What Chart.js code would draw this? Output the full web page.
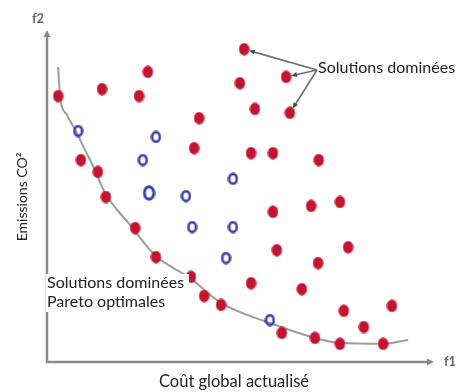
<!DOCTYPE html>
<html>
<head>
<meta charset="utf-8">
<script src="https://cdn.jsdelivr.net/npm/chart.js@4/dist/chart.umd.min.js"></script>
<style>
  html, body { margin: 0; padding: 0; background: #fff; }
  #wrap { width: 462px; height: 392px; }
</style>
</head>
<body>
<div id="wrap"><canvas id="c" width="462" height="392"></canvas></div>
<script>
// Dominated solutions (red, filled) — f1 (cost), f2 (CO2), normalised 0-100
const redX = [51.2, 26.2, 62.1, 50.1, 14.3, 2.9, 23.9, 54.0, 63.1, 39.5, 38.2, 53.0, 58.7, 8.8, 70.6, 13.2, 15.3, 76.1, 68.6, 58.7, 22.9, 78.2, 59.7, 28.3, 70.4, 37.4, 53.0, 66.2, 40.8, 45.2, 89.6, 77.1, 82.3, 61.0, 69.6, 76.1, 87.3];
const redY = [94.8, 87.9, 86.4, 84.5, 82.7, 80.6, 80.6, 76.7, 75.5, 73.9, 64.8, 63.3, 63.3, 61.2, 61.2, 57.6, 50.0, 48.5, 47.3, 45.5, 40.6, 34.8, 33.9, 31.8, 30.0, 25.8, 23.9, 22.1, 20.0, 17.3, 17.0, 15.5, 10.6, 8.8, 7.3, 5.5, 5.5];
// Other solutions (blue, hollow)
const blueX = [8.1, 28.3, 24.9, 48.3, 26.5, 36.1, 37.7, 48.3, 46.5, 57.9];
const blueY = [70.0, 68.2, 61.2, 55.5, 51.2, 50.3, 40.9, 40.9, 31.5, 12.7];
const blueBig = [false, false, false, false, true, false, false, false, false, false];
// Pareto front curve
const frontX = [2.9, 3.4, 5.2, 7.5, 9.9, 12.2, 15.1, 21.6, 28.3, 37.1, 45.2, 57.9, 69.6, 76.1, 87.3, 93.8];
const frontY = [89.4, 80.6, 74.8, 70.0, 64.2, 58.8, 51.2, 41.5, 32.1, 25.5, 17.9, 11.8, 7.3, 5.8, 5.5, 6.7];
// Indices of red points pointed at by "Solutions dominées"
const annotated = [0, 2, 8];
// Texts
const xTitle = "Coût global actualisé";
const yTitle = "Emissions CO²";
const xAxisName = "f1";
const yAxisName = "f2";
const topLabel = "Solutions dominées";
const paretoLabel = ["Solutions dominées", "Pareto optimales"];

function ellipseImg(w, h, fill, stroke, lw) {
  const c = document.createElement('canvas');
  c.width = w; c.height = h;
  const g = c.getContext('2d');
  g.beginPath();
  if (fill) {
    g.ellipse(w / 2, h / 2, w / 2 - 0.3, h / 2 - 0.3, 0, 0, Math.PI * 2);
    g.fillStyle = fill; g.fill();
  } else {
    g.ellipse(w / 2, h / 2, w / 2 - lw / 2 - 0.3, h / 2 - lw / 2 - 0.3, 0, 0, Math.PI * 2);
    g.strokeStyle = stroke; g.lineWidth = lw; g.stroke();
  }
  return c;
}
const RED = '#c8122f';
const BLUE = '#3a3db2';
const redImg = ellipseImg(11, 13, RED);
const blueImg = ellipseImg(11, 13, null, BLUE, 2.6);
const blueBigImg = ellipseImg(13, 16, null, BLUE, 3);

const FONT = 'Lato, "Open Sans", sans-serif';

const decor = {
  id: 'decor',
  beforeDatasetsDraw(chart) {
    const ctx = chart.ctx;
    const a = chart.chartArea;
    ctx.save();
    ctx.strokeStyle = '#8a8a8a';
    ctx.fillStyle = '#8a8a8a';
    ctx.lineWidth = 2.5;
    // y axis
    ctx.beginPath(); ctx.moveTo(a.left, a.bottom + 1); ctx.lineTo(a.left, a.top + 4); ctx.stroke();
    ctx.beginPath(); ctx.moveTo(a.left, a.top - 2); ctx.lineTo(a.left - 3.5, a.top + 5); ctx.lineTo(a.left + 3.5, a.top + 5); ctx.closePath(); ctx.fill();
    // x axis
    ctx.beginPath(); ctx.moveTo(a.left - 1, a.bottom); ctx.lineTo(a.right - 4, a.bottom); ctx.stroke();
    ctx.beginPath(); ctx.moveTo(a.right + 2, a.bottom); ctx.lineTo(a.right - 5, a.bottom - 3.5); ctx.lineTo(a.right - 5, a.bottom + 3.5); ctx.closePath(); ctx.fill();
    // axis names
    ctx.fillStyle = '#666';
    ctx.font = 'bold 13px ' + FONT;
    ctx.textAlign = 'center'; ctx.textBaseline = 'middle';
    ctx.fillText(yAxisName, a.left - 9, a.top - 13);
    ctx.fillText(xAxisName, a.right + 18, a.bottom);
    // axis titles
    ctx.fillStyle = '#222';
    ctx.font = '16.5px ' + FONT;
    ctx.fillText(xTitle, 234, 382);
    ctx.font = '14px ' + FONT;
    ctx.save();
    ctx.translate(22, 197);
    ctx.rotate(-Math.PI / 2);
    ctx.fillText(yTitle, 0, 0);
    ctx.restore();
    ctx.restore();
  },
  afterDatasetsDraw(chart) {
    const ctx = chart.ctx;
    const xs = chart.scales.x, ys = chart.scales.y;
    ctx.save();
    // white box + Pareto label
    ctx.fillStyle = '#fff';
    ctx.fillRect(46, 274, 143, 38);
    ctx.fillStyle = '#222';
    ctx.font = '16px ' + FONT;
    ctx.textAlign = 'left'; ctx.textBaseline = 'middle';
    ctx.fillText(paretoLabel[0], 47, 283);
    ctx.fillText(paretoLabel[1], 47, 302);
    // top label
    ctx.fillText(topLabel, 318, 68);
    // arrows
    const ox = 317, oy = 70;
    ctx.strokeStyle = '#6e6e6e';
    ctx.fillStyle = '#4a4a4a';
    ctx.lineWidth = 1.6;
    annotated.forEach(i => {
      const px = xs.getPixelForValue(redX[i]);
      const py = ys.getPixelForValue(redY[i]);
      const dx = px - ox, dy = py - oy;
      const len = Math.hypot(dx, dy);
      const ux = dx / len, uy = dy / len;
      const tx = px - ux * 5, ty = py - uy * 5;
      ctx.beginPath(); ctx.moveTo(ox, oy); ctx.lineTo(tx - ux * 4, ty - uy * 4); ctx.stroke();
      const nx = -uy, ny = ux;
      ctx.beginPath();
      ctx.moveTo(tx, ty);
      ctx.lineTo(tx - ux * 6 + nx * 2.5, ty - uy * 6 + ny * 2.5);
      ctx.lineTo(tx - ux * 6 - nx * 2.5, ty - uy * 6 - ny * 2.5);
      ctx.closePath(); ctx.fill();
    });
    ctx.restore();
  }
};

new Chart(document.getElementById('c'), {
  type: 'scatter',
  data: {
    datasets: [
      {
        label: 'front',
        type: 'line',
        data: frontX.map((x, i) => ({ x, y: frontY[i] })),
        borderColor: '#9c9c9c',
        borderWidth: 2,
        pointRadius: 0,
        cubicInterpolationMode: 'monotone',
        fill: false,
        order: 3
      },
      {
        label: 'blue',
        data: blueX.map((x, i) => ({ x, y: blueY[i] })),
        pointStyle: blueBig.map(b => b ? blueBigImg : blueImg),
        order: 2
      },
      {
        label: 'red',
        data: redX.map((x, i) => ({ x, y: redY[i] })),
        pointStyle: redImg,
        order: 1
      }
    ]
  },
  options: {
    responsive: false,
    animation: false,
    events: [],
    layout: { padding: { left: 47, right: 30, top: 32, bottom: 30 } },
    scales: {
      x: { type: 'linear', min: 0, max: 100, display: false },
      y: { type: 'linear', min: 0, max: 100, display: false }
    },
    plugins: { legend: { display: false }, tooltip: { enabled: false } }
  },
  plugins: [decor]
});
</script>
</body>
</html>
